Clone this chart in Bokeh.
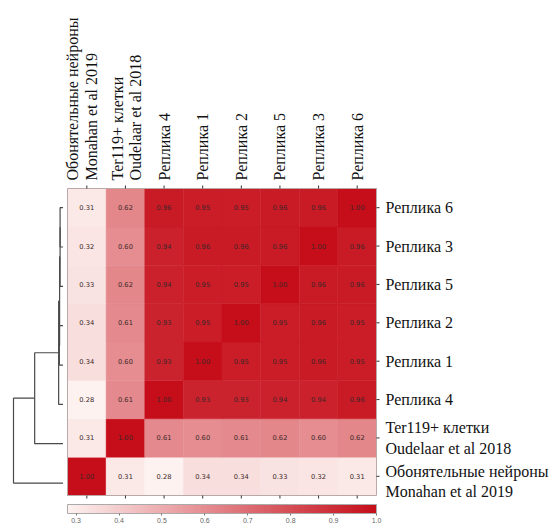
import numpy as np
from bokeh.plotting import figure
from bokeh.models import (Range1d, ColumnDataSource, LinearColorMapper, ColorBar,
                          FixedTicker, PrintfTickFormatter)
from bokeh.transform import linear_cmap
from bokeh.core.properties import value
from bokeh.embed import file_html
from bokeh.resources import INLINE

# ---------------- data (bottom-to-top rows, left-to-right columns) ----------------
row_labels = ["Обонятельные нейроны\nMonahan et al 2019",
              "Ter119+ клетки\nOudelaar et al 2018",
              "Реплика 4", "Реплика 1", "Реплика 2", "Реплика 5", "Реплика 3", "Реплика 6"]
col_labels = ["Обонятельные нейроны\nMonahan et al 2019",
              "Ter119+ клетки\nOudelaar et al 2018",
              "Реплика 4", "Реплика 1", "Реплика 2", "Реплика 5", "Реплика  3", "Реплика  6"]

corr_obon = [1.00, 0.31, 0.28, 0.34, 0.34, 0.33, 0.32, 0.31]
corr_ter  = [0.31, 1.00, 0.61, 0.60, 0.61, 0.62, 0.60, 0.62]
corr_rep4 = [0.28, 0.61, 1.00, 0.93, 0.93, 0.94, 0.94, 0.96]
corr_rep1 = [0.34, 0.60, 0.93, 1.00, 0.95, 0.95, 0.96, 0.95]
corr_rep2 = [0.34, 0.61, 0.93, 0.95, 1.00, 0.95, 0.96, 0.95]
corr_rep5 = [0.33, 0.62, 0.94, 0.95, 0.95, 1.00, 0.96, 0.96]
corr_rep3 = [0.32, 0.60, 0.94, 0.96, 0.96, 0.96, 1.00, 0.96]
corr_rep6 = [0.31, 0.62, 0.96, 0.95, 0.95, 0.96, 0.96, 1.00]

# dendrogram topology: pairs of node ids (leaves 0..7 in row order, new nodes 8..)
merges = [(7, 6), (8, 5), (4, 3), (9, 10), (11, 2), (12, 1), (13, 0)]

colorbar_ticks = [0.3, 0.4, 0.5, 0.6, 0.7, 0.8, 0.9, 1.0]
cmap_low, cmap_high = 0.28, 1.0

# ---------------- layout constants ----------------
W, H = 549, 531
HM_LEFT, HM_TOP = 67, 188
CW, CH = 38.625, 38.375
N = len(row_labels)
HM_BOTTOM = H - (HM_TOP + N * CH)

mat = np.array([corr_obon, corr_ter, corr_rep4, corr_rep1, corr_rep2,
                corr_rep5, corr_rep3, corr_rep6])

# palette: white-ish to red
lo_rgb = np.array([253, 242, 240])
hi_rgb = np.array([198, 14, 26])
palette = []
for t in np.linspace(0, 1, 256):
    c = (lo_rgb + (hi_rgb - lo_rgb) * t).round().astype(int)
    palette.append("#%02x%02x%02x" % tuple(c))

p = figure(width=W, height=H, output_backend="svg", toolbar_location=None,
           x_range=Range1d(-HM_LEFT / CW, (W - HM_LEFT) / CW),
           y_range=Range1d(-HM_BOTTOM / CH, (H - HM_BOTTOM) / CH),
           min_border=0, x_axis_location=None, y_axis_location=None)
p.grid.visible = False
p.outline_line_color = None
p.background_fill_color = "white"

# ---------------- heatmap ----------------
xs, ys, vs, ts = [], [], [], []
for i in range(N):
    for j in range(N):
        xs.append(j + 0.5)
        ys.append(i + 0.5)
        vs.append(mat[i, j])
        ts.append("%.2f" % mat[i, j])
src = ColumnDataSource(dict(x=xs, y=ys, v=vs, t=ts))
cm = linear_cmap("v", palette, cmap_low, cmap_high)
p.rect(x="x", y="y", width=1, height=1, source=src, fill_color=cm,
       line_color=cm, line_width=0.5)
p.text(x="x", y="y", text="t", source=src, text_align="center", text_baseline="middle",
       text_font_size="6.7px", text_color="#3a2626", text_font=value("DejaVu Sans"))

# frame
p.rect(x=[N / 2], y=[N / 2], width=[N], height=[N], fill_color=None,
       line_color="#b9a9a9", line_width=1)

# ticks
tl_x = 3 / CW
tl_y = 3 / CH
centers = [k + 0.5 for k in range(N)]
p.segment(x0=centers, y0=[N] * N, x1=centers, y1=[N + tl_y] * N, line_color="#333333", line_width=1)
p.segment(x0=centers, y0=[0] * N, x1=centers, y1=[-tl_y] * N, line_color="#333333", line_width=1)
p.segment(x0=[N] * N, y0=centers, x1=[N + tl_x] * N, y1=centers, line_color="#333333", line_width=1)

# ---------------- labels ----------------
col_xoff = [-5, 1] + [0] * (N - 2)
p.text(x=centers, y=[N + 8 / CH] * N, text=col_labels, angle=np.pi / 2,
       x_offset=col_xoff,
       text_align="left", text_baseline="middle", text_font_size="16px",
       text_font=value("Liberation Serif"), text_color="#111111", text_line_height=1.1)
row_yoff = [5, 0] + [0] * (N - 2)
p.text(x=[N + 9 / CW] * N, y=centers, text=row_labels, y_offset=row_yoff,
       text_align="left", text_baseline="middle", text_font_size="16px",
       text_font=value("Liberation Serif"), text_color="#111111", text_line_height=1.2)

# ---------------- dendrogram (average linkage on 1 - r) ----------------
dist = 1 - mat
members = {k: [k] for k in range(N)}
height = {k: 0.0 for k in range(N)}
stretch = 1.025
ypos = {k: (N - 0.5) - ((N - 0.5) - (k + 0.5)) * stretch for k in range(N)}
nid = N
for a, b in merges:
    h = float(np.mean([dist[u, v] for u in members[a] for v in members[b]]))
    members[nid] = members[a] + members[b]
    height[nid] = h
    ypos[nid] = (ypos[a] + ypos[b]) / 2
    nid += 1
hmax = max(height.values())
leaf_x = -4.5 / CW
root_x = (13 - HM_LEFT) / CW
k = (leaf_x - root_x) / hmax
dx = lambda d: leaf_x - d * k

dxs, dys = [], []
nid = N
for a, b in merges:
    h = height[nid]
    dxs.append([dx(height[a]), dx(h), dx(h), dx(height[b])])
    dys.append([ypos[a], ypos[a], ypos[b], ypos[b]])
    nid += 1
p.multi_line(xs=dxs, ys=dys, line_color="#4a4a4a", line_width=1.2)

# ---------------- colorbar ----------------
mapper = LinearColorMapper(palette=palette, low=cmap_low, high=cmap_high)
cb = ColorBar(color_mapper=mapper, orientation="horizontal", width=int(round(N * CW)), height=9,
              location=(HM_LEFT, 6), padding=0, ticker=FixedTicker(ticks=colorbar_ticks),
              formatter=PrintfTickFormatter(format="%.1f"),
              major_label_text_font_size="7px", major_label_text_color="#666666",
              major_tick_in=0, major_tick_out=2, major_tick_line_color="#777777",
              bar_line_color="#aaaaaa", background_fill_alpha=0, border_line_color=None,
              label_standoff=2)
p.add_layout(cb)

open("out.html", "w").write(file_html(p, INLINE))
